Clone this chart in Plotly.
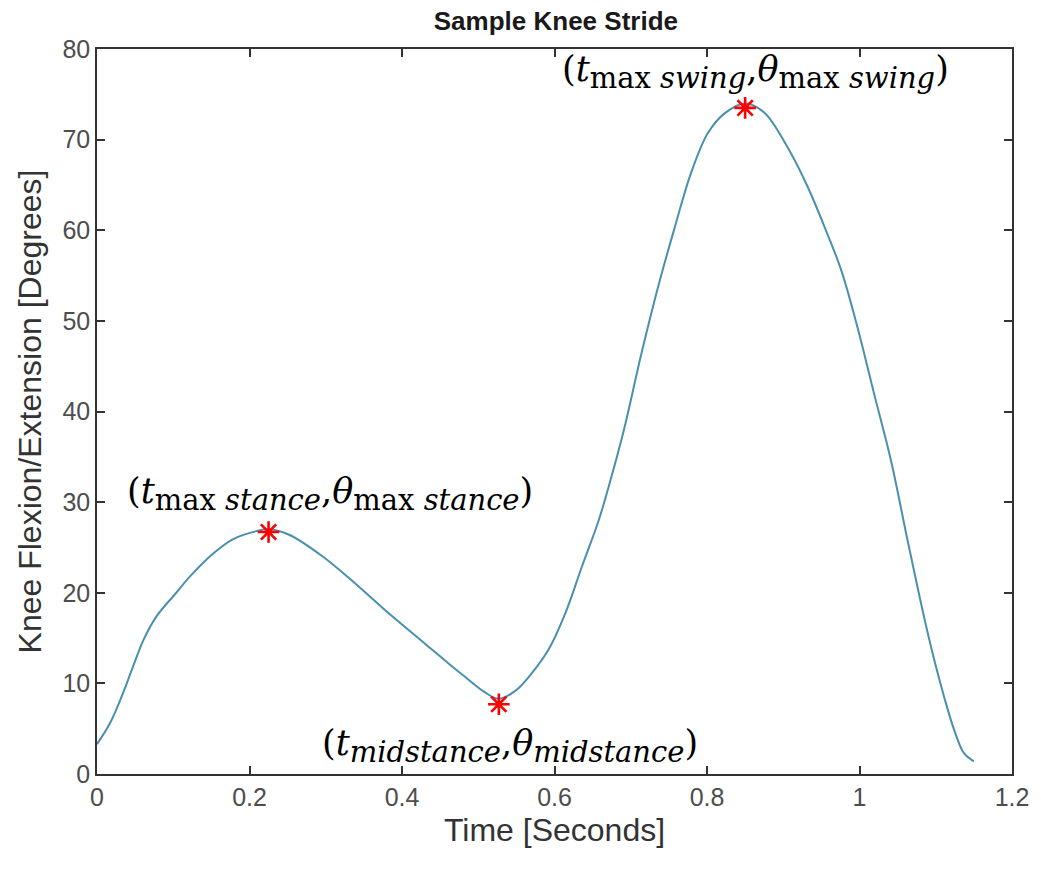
import plotly.graph_objects as go

# Knee flexion/extension angle over one stride
time_s = [0.000, 0.017, 0.034, 0.047, 0.061, 0.078, 0.104, 0.122, 0.152, 0.178,
          0.209, 0.225, 0.252, 0.296, 0.339, 0.383, 0.427, 0.461, 0.483, 0.509,
          0.527, 0.549, 0.570, 0.592, 0.614, 0.636, 0.658, 0.675, 0.692, 0.714,
          0.736, 0.758, 0.779, 0.801, 0.823, 0.850, 0.875, 0.910, 0.932, 0.954,
          0.976, 0.997, 1.019, 1.041, 1.063, 1.085, 1.098, 1.111, 1.124, 1.137,
          1.150]
angle_deg = [3.3, 5.6, 8.9, 11.8, 14.8, 17.4, 20.0, 21.8, 24.3, 25.9,
             26.8, 27.0, 26.4, 24.0, 21.0, 17.7, 14.6, 12.2, 10.7, 9.0,
             8.3, 9.2, 11.1, 13.7, 17.7, 22.9, 28.0, 32.9, 38.3, 46.4,
             53.8, 60.4, 66.3, 70.7, 72.9, 74.0, 73.0, 68.5, 64.8, 60.4,
             55.6, 49.4, 42.0, 34.7, 25.8, 17.2, 12.6, 8.5, 4.9, 2.3,
             1.4]

# Key gait events
event_t = [0.225, 0.527, 0.850]
event_theta = [26.7, 7.7, 73.5]


def sub(text):
    # lowered index text
    return f'<sub><span style="font-size:29px">{text}</span></sub>'


event_labels = [
    f"(<i>t</i>{sub('max <i>stance</i>')},<i>θ</i>{sub('max <i>stance</i>')})",
    f"(<i>t</i>{sub('<i>midstance</i>')},<i>θ</i>{sub('<i>midstance</i>')})",
    f"(<i>t</i>{sub('max <i>swing</i>')},<i>θ</i>{sub('max <i>swing</i>')})",
]
label_pos = [(0.305, 30.9), (0.541, 3.1), (0.863, 77.5)]

x_ticks = [0, 0.2, 0.4, 0.6, 0.8, 1.0, 1.2]
y_ticks = [0, 10, 20, 30, 40, 50, 60, 70, 80]

fig = go.Figure()
fig.add_trace(go.Scatter(
    x=time_s, y=angle_deg, mode="lines",
    line=dict(color="#4a8fb0", width=2, shape="spline", smoothing=1.0),
    showlegend=False, hoverinfo="skip",
))
fig.add_trace(go.Scatter(
    x=event_t, y=event_theta, mode="markers",
    marker=dict(symbol="asterisk-open", size=18, color="red",
                line=dict(color="red", width=2.6)),
    showlegend=False, hoverinfo="skip",
))

for text, (ax, ay) in zip(event_labels, label_pos):
    fig.add_annotation(x=ax, y=ay, xref="x", yref="y", text=text,
                       showarrow=False,
                       font=dict(family="DejaVu Serif", size=35, color="black"))

axis_common = dict(
    showline=True, linecolor="#333333", linewidth=1.5, mirror="ticks",
    ticks="inside", ticklen=8, tickwidth=1.5, tickcolor="#333333",
    showgrid=False, zeroline=False,
    tickfont=dict(family="Liberation Sans", size=25, color="#4d4d4d"),
)

fig.update_layout(
    width=1041, height=869,
    margin=dict(l=97, r=26, t=49, b=95),
    paper_bgcolor="white", plot_bgcolor="white",
    title=dict(text="<b>Sample Knee Stride</b>", x=0.534, xanchor="center",
               y=1 - 21 / 869, yanchor="middle", yref="container",
               font=dict(family="Liberation Sans", size=26, color="#1a1a1a")),
    xaxis=dict(range=[0, 1.2], tickvals=x_ticks,
               ticktext=[f"{v:g}" for v in x_ticks],
               title=dict(text="Time [Seconds]", standoff=9,
                          font=dict(family="Liberation Sans", size=32, color="#333333")),
               **axis_common),
    yaxis=dict(range=[0, 80], tickvals=y_ticks,
               title=dict(text="Knee Flexion/Extension [Degrees]", standoff=11,
                          font=dict(family="Liberation Sans", size=32, color="#333333")),
               **axis_common),
)

fig.write_html("out.html")
